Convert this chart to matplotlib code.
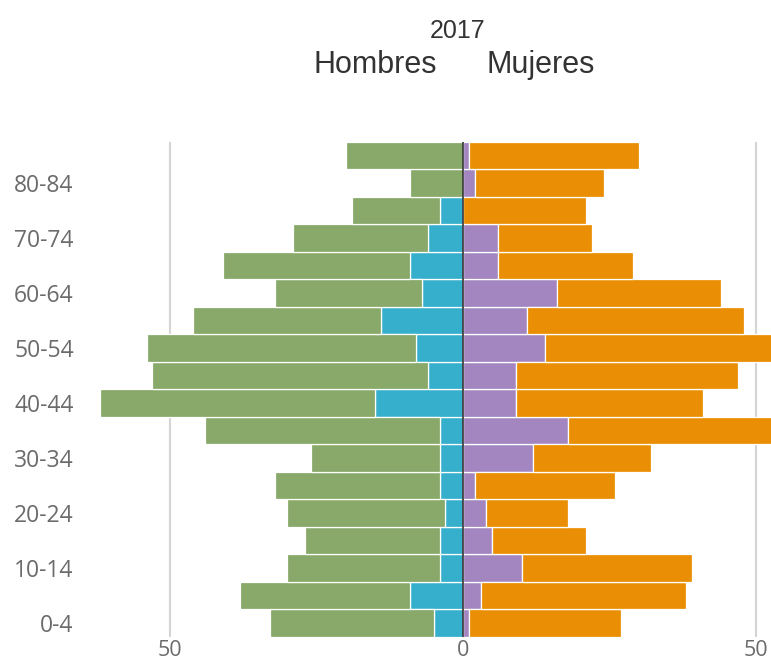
import numpy as np
import matplotlib
matplotlib.use("Agg")
import matplotlib.pyplot as plt

# age groups, bottom to top
ages = ['0-4', '5-9', '10-14', '15-19', '20-24', '25-29', '30-34', '35-39', '40-44',
        '45-49', '50-54', '55-59', '60-64', '65-69', '70-74', '75-79', '80-84', '85+']

# Hombres: inner (blue) and outer (green) segments
men_inner = [5, 9, 4, 4, 3, 4, 4, 4, 15, 6, 8, 14, 7, 9, 6, 4, 0, 0]
men_outer = [28, 29, 26, 23, 27, 28, 22, 40, 47, 47, 46, 32, 25, 32, 23, 15, 9, 20]

# Mujeres: inner (purple) and outer (orange) segments
women_inner = [1, 3, 10, 5, 4, 2, 12, 18, 9, 9, 14, 11, 16, 6, 6, 0, 2, 1]
women_outer = [26, 35, 29, 16, 14, 24, 20, 36, 32, 38, 41, 37, 28, 23, 16, 21, 22, 29]

GREEN = '#88a96a'
BLUE = '#35afcb'
PURPLE = '#a386bf'
ORANGE = '#ea8f05'

fig = plt.figure(figsize=(7.71, 6.71), dpi=100)
ax = fig.add_axes([0.1064, 0.0507, 0.8936, 0.7377])

y = np.arange(len(ages))
mi = np.array(men_inner)
mo = np.array(men_outer)
wi = np.array(women_inner)
wo = np.array(women_outer)

kw = dict(height=1.0, edgecolor='white', linewidth=0.9, zorder=2)
ax.barh(y, -mi, color=BLUE, **kw)
ax.barh(y, -mo, left=-mi, color=GREEN, **kw)
ax.barh(y, wi, color=PURPLE, **kw)
ax.barh(y, wo, left=wi, color=ORANGE, **kw)

for gx in (-50, 50):
    ax.axvline(gx, color='#d4d4d4', lw=1.5, zorder=1)
ax.axvline(0, color='#333333', lw=1.2, zorder=3)

ax.set_xlim(-65, 52.56)
ax.set_ylim(-0.5, len(ages) - 0.5)

ax.set_yticks(y[::2])
ax.set_yticklabels(ages[::2])
ax.set_xticks([-50, 0, 50])
ax.set_xticklabels(['50', '0', '50'])
ax.tick_params(length=0, labelcolor='#6b6b6b')
ax.tick_params(axis='y', pad=6, labelsize=16.5)
ax.tick_params(axis='x', pad=2.5, labelsize=15.5)
for lab in ax.get_xticklabels() + ax.get_yticklabels():
    lab.set_fontfamily('Open Sans')

for s in ax.spines.values():
    s.set_visible(False)

fig.text(0.594, 0.9434, '2017', ha='center', va='baseline', fontsize=18,
         family='Liberation Sans', color='#333333')
fig.text(0.4864, 0.8912, 'Hombres', ha='center', va='baseline', fontsize=22,
         family='Liberation Sans', color='#333333')
fig.text(0.701, 0.8912, 'Mujeres', ha='center', va='baseline', fontsize=22,
         family='Liberation Sans', color='#333333')

fig.savefig('out.png', dpi=100)
